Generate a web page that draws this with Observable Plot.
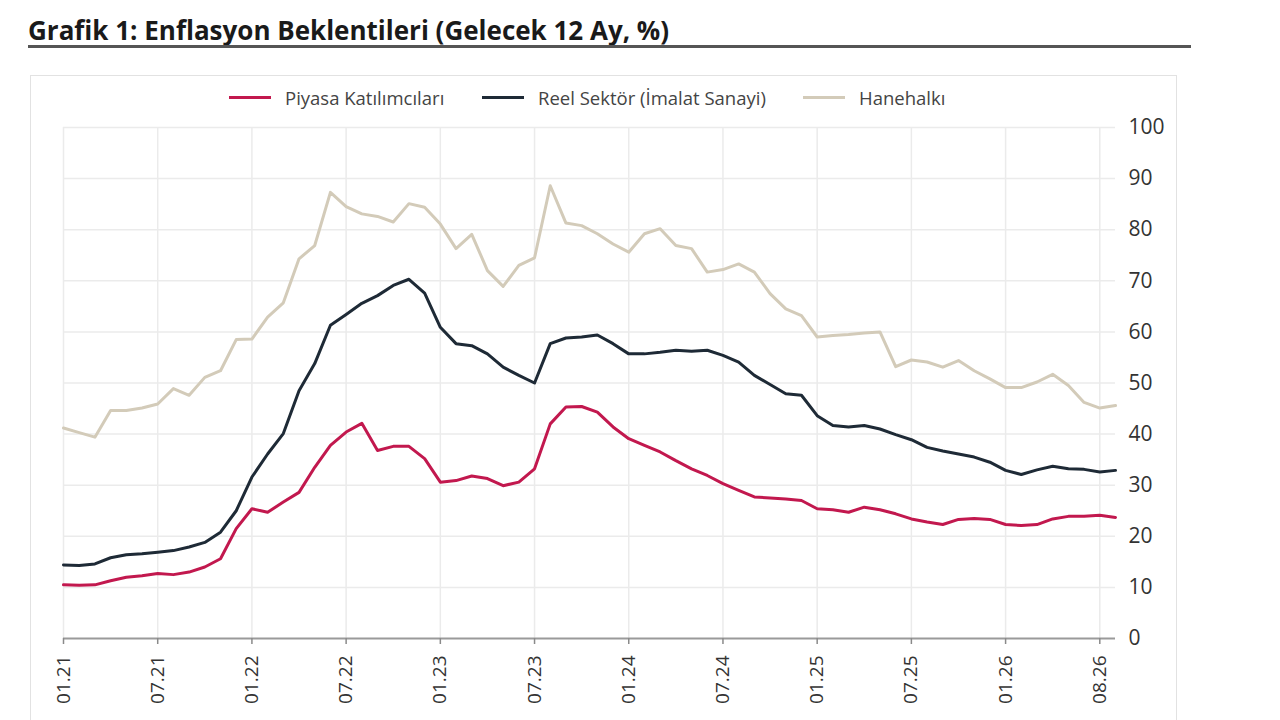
<!DOCTYPE html>
<html>
<head>
<meta charset="utf-8">
<script src="https://cdn.jsdelivr.net/npm/d3@7"></script>
<script src="https://cdn.jsdelivr.net/npm/@observablehq/plot@0.6"></script>
<style>
  html, body { margin: 0; padding: 0; background: #fff; }
  body { width: 1280px; height: 720px; position: relative; overflow: hidden; font-family: "Open Sans", sans-serif; }
  #title { position: absolute; left: 28px; top: 12px; font-size: 26px; font-weight: 700; line-height: 36px; color: #1a1a1a; white-space: nowrap; }
  #rule { position: absolute; left: 28px; top: 45px; width: 1163px; height: 3px; background: #555; }
  #box { position: absolute; left: 30px; top: 75px; width: 1147px; height: 700px; border: 1.5px solid #e2e2e2; box-sizing: border-box; }
  #chart { position: absolute; left: 0; top: 0; }
  #legend { position: absolute; top: 85px; left: 0; width: 1280px; height: 24px; }
  .item { position: absolute; top: 0; height: 24px; display: flex; align-items: center; font-size: 18.5px; color: #444; white-space: nowrap; }
  .sw { width: 42px; height: 3px; margin-right: 14px; }
</style>
</head>
<body>
<div id="title">Grafik 1: Enflasyon Beklentileri (Gelecek 12 Ay, %)</div>
<div id="rule"></div>
<div id="box"></div>
<div id="chart"></div>
<div id="legend"></div>
<script>
// Monthly labels 01.21 ... 08.26
const months = [];
for (let y = 21; y <= 26; y++) {
  for (let m = 1; m <= 12; m++) {
    if (y === 26 && m > 8) break;
    months.push(String(m).padStart(2, "0") + "." + y);
  }
}

const seriesNames = ["Piyasa Katılımcıları", "Reel Sektör (İmalat Sanayi)", "Hanehalkı"];
const seriesColors = ["#c2184e", "#1e2a36", "#d3cbb9"];

const piyasa = [
  10.5,10.4,10.5,11.3,12.0,12.3,12.7,12.5,13.0,14.0,
  15.6,21.5,25.4,24.7,26.7,28.6,33.5,37.8,40.4,42.1,
  36.8,37.6,37.6,35.2,30.6,30.9,31.8,31.3,29.9,30.6,
  33.2,42.0,45.3,45.4,44.3,41.4,39.1,37.8,36.5,34.8,
  33.2,31.9,30.3,29.0,27.7,27.5,27.3,27.0,25.4,25.2,
  24.7,25.7,25.2,24.4,23.4,22.8,22.3,23.3,23.5,23.3,
  22.3,22.1,22.3,23.4,23.9,23.9,24.1,23.7
];
const reel = [
  14.4,14.3,14.6,15.8,16.4,16.6,16.9,17.2,17.9,18.8,
  20.8,25.0,31.6,36.1,40.1,48.5,53.8,61.3,63.4,65.6,
  67.1,69.1,70.3,67.6,60.9,57.7,57.3,55.7,53.1,51.5,
  50.0,57.7,58.8,59.0,59.4,57.7,55.7,55.7,56.0,56.4,
  56.2,56.4,55.4,54.1,51.5,49.7,47.9,47.6,43.6,41.7,
  41.4,41.7,41.0,39.9,38.9,37.4,36.7,36.1,35.5,34.5,
  32.9,32.1,33.0,33.7,33.2,33.1,32.6,32.9
];
const hanehalki = [
  41.2,40.3,39.4,44.6,44.6,45.1,45.9,48.9,47.6,51.1,
  52.4,58.5,58.6,62.9,65.7,74.3,76.9,87.3,84.5,83.1,
  82.6,81.5,85.1,84.4,81.1,76.3,79.1,72.0,68.9,73.0,
  74.5,88.6,81.3,80.8,79.2,77.2,75.6,79.2,80.2,76.9,
  76.3,71.7,72.2,73.3,71.7,67.5,64.5,63.2,59.0,59.3,
  59.5,59.8,60.0,53.2,54.5,54.1,53.1,54.4,52.4,50.8,
  49.1,49.1,50.2,51.7,49.5,46.2,45.1,45.6
];

const xTickLabels = ["01.21","07.21","01.22","07.22","01.23","07.23","01.24","07.24","01.25","07.25","01.26","08.26"];
const xTickPos = [0,6,12,18,24,30,36,42,48,54,60,66];
const yTicks = [0,10,20,30,40,50,60,70,80,90,100];

const seriesValues = [piyasa, reel, hanehalki];
const rows = [];
// draw order: household first (behind), then real sector, then market participants
[2, 1, 0].forEach(k => {
  seriesValues[k].forEach((v, i) => rows.push({ i, month: months[i], v, s: seriesNames[k] }));
});

const chart = Plot.plot({
  width: 1280,
  height: 720,
  marginLeft: 63,
  marginRight: 165,
  marginTop: 127,
  marginBottom: 82,
  style: { fontFamily: "Open Sans, sans-serif", background: "transparent", overflow: "visible" },
  x: { type: "linear", domain: [0, months.length - 1] },
  y: { domain: [0, 100] },
  color: { domain: seriesNames, range: seriesColors },
  marks: [
    Plot.gridY(yTicks.filter(d => d > 0), { stroke: "#ebebeb", strokeOpacity: 1, strokeWidth: 1.5 }),
    Plot.gridX(xTickPos, { stroke: "#ebebeb", strokeOpacity: 1, strokeWidth: 1.5 }),
    Plot.ruleY([0], { stroke: "#9a9a9a", strokeWidth: 2 }),
    Plot.axisX(xTickPos, {
      tickFormat: d => xTickLabels[xTickPos.indexOf(d)],
      tickRotate: -90, tickSize: 6, tickPadding: 11,
      fontSize: 19, fill: "#333", stroke: "#8a8a8a", strokeWidth: 1.5, label: null
    }),
    Plot.axisY(yTicks, { anchor: "right", tickSize: 0, tickPadding: 13, fontSize: 21, fill: "#333", label: null }),
    Plot.line(rows, { x: "i", y: "v", z: "s", stroke: "s", strokeWidth: 3, strokeLinejoin: "round" })
  ]
});
document.getElementById("chart").appendChild(chart);

// Legend
const legend = document.getElementById("legend");
const legendLeft = [229, 482, 803];
seriesNames.forEach((name, k) => {
  const it = document.createElement("div");
  it.className = "item";
  it.style.left = legendLeft[k] + "px";
  const sw = document.createElement("span");
  sw.className = "sw";
  sw.style.background = seriesColors[k];
  const tx = document.createElement("span");
  tx.textContent = name;
  it.appendChild(sw);
  it.appendChild(tx);
  legend.appendChild(it);
});
</script>
</body>
</html>
